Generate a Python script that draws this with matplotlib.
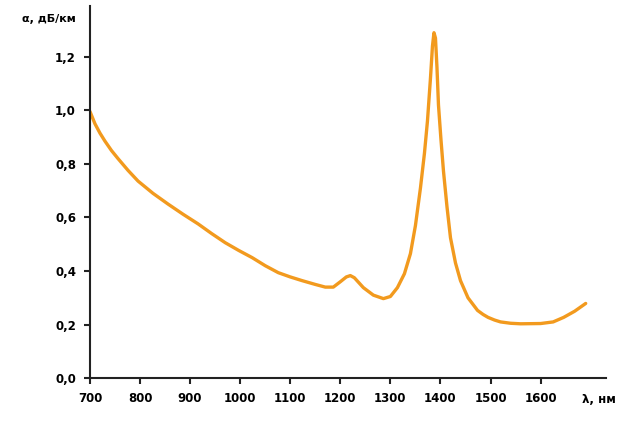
import numpy as np
import matplotlib.pyplot as plt

# attenuation spectrum of optical fibre
wavelength = [700, 710, 720, 730, 743, 756, 776, 796, 826, 856, 886, 916,
              943, 970, 997, 1024, 1050, 1076, 1100, 1124, 1150, 1170, 1186,
              1200, 1212, 1220, 1228, 1246, 1266, 1286, 1300, 1314, 1328,
              1340, 1350, 1360, 1368, 1374, 1380, 1384, 1387, 1390, 1393,
              1396, 1401, 1406, 1413, 1420, 1430, 1440, 1455, 1474, 1485,
              1495, 1508, 1520, 1540, 1560, 1600, 1625, 1646, 1668, 1690]
attenuation = [0.996, 0.95, 0.915, 0.885, 0.85, 0.82, 0.776, 0.736, 0.69, 0.65, 0.612, 0.576,
               0.54, 0.506, 0.477, 0.45, 0.42, 0.394, 0.378, 0.364, 0.35, 0.34, 0.34,
               0.36, 0.378, 0.383, 0.375, 0.338, 0.31, 0.297, 0.305, 0.338, 0.39,
               0.465, 0.57, 0.71, 0.84, 0.96, 1.12, 1.24, 1.29, 1.27, 1.16,
               1.02, 0.89, 0.773, 0.64, 0.524, 0.43, 0.364, 0.30, 0.253, 0.238,
               0.227, 0.217, 0.21, 0.205, 0.203, 0.204, 0.21, 0.227, 0.25, 0.279]

x_ticks = [700, 800, 900, 1000, 1100, 1200, 1300, 1400, 1500, 1600]
y_ticks = [0.0, 0.2, 0.4, 0.6, 0.8, 1.0, 1.2]
y_labels = ["0,0", "0,2", "0,4", "0,6", "0,8", "1,0", "1,2"]

fig = plt.figure(figsize=(6.29, 4.23), dpi=100)
ax = fig.add_axes([0.143, 0.106, 0.82, 0.88])

ax.plot(wavelength, attenuation, color="#F29A1E", lw=2.4,
        solid_capstyle="round", solid_joinstyle="round")

ax.set_xlim(700, 1730)
ax.set_ylim(0, 1.39)
ax.set_xticks(x_ticks)
ax.set_yticks(y_ticks)
ax.set_yticklabels(y_labels)

for s in ["top", "right"]:
    ax.spines[s].set_visible(False)
for s in ["left", "bottom"]:
    ax.spines[s].set_linewidth(1.5)
    ax.spines[s].set_color("#222222")

ax.tick_params(direction="out", length=4, width=1.5, color="#222222",
               labelsize=8.5, pad=6)
for lbl in ax.get_xticklabels() + ax.get_yticklabels():
    lbl.set_fontweight("bold")

fig.text(0.035, 0.955, "α, дБ/км", fontsize=8, fontweight="bold", ha="left", va="center")
fig.text(0.925, 0.055, "λ, нм", fontsize=8.5, fontweight="bold", ha="left", va="center")

fig.savefig("out.png", dpi=100)
